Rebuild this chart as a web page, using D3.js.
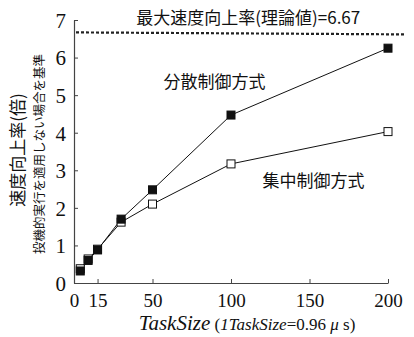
<!DOCTYPE html>
<html>
<head>
<meta charset="utf-8">
<script src="https://cdn.jsdelivr.net/npm/d3@7"></script>
<style>
  body { margin: 0; background: #fff; }
  svg { display: block; }
</style>
</head>
<body>
<div id="chart"></div>
<script>
// task sizes and speed-up values
const taskSizes = [4, 9, 15, 30, 50, 100, 200];
const distributed = [0.32, 0.6, 0.88, 1.7, 2.48, 4.47, 6.25];
const centralized = [0.38, 0.64, 0.9, 1.62, 2.1, 3.17, 4.03];
const maxSpeedup = 6.67;
const xTicks = [0, 15, 50, 100, 150, 200];
const yTicks = [0, 1, 2, 3, 4, 5, 6, 7];

const W = 414, H = 337;
const margin = {top: 20, right: 22, bottom: 54, left: 74};
const width = W - margin.left - margin.right,
    height = H - margin.top - margin.bottom;

const svg = d3.select("#chart")
    .append("svg")
    .attr("width", W)
    .attr("height", H)
    .style("background-color", "#fff");

const g = svg.append("g")
    .attr("transform", `translate(${margin.left},${margin.top})`);

const x = d3.scaleLinear().domain([0, 200]).range([0, width - 4]);
const y = d3.scaleLinear().domain([0, 7]).range([height, 0]);

const serif = "'Liberation Serif', 'DejaVu Serif', serif";
const jp = "'Noto Sans CJK JP', sans-serif";

// axes: ticks point inwards
const xAxis = g.append("g")
    .attr("transform", `translate(0,${height})`)
    .call(d3.axisBottom(x).tickValues(xTicks).tickFormat(d3.format("d"))
        .tickSize(-4).tickPadding(10).tickSizeOuter(0));
const yAxis = g.append("g")
    .call(d3.axisLeft(y).tickValues(yTicks).tickFormat(d3.format("d"))
        .tickSize(-4).tickPadding(8).tickSizeOuter(0));

[xAxis, yAxis].forEach(a => {
    a.select(".domain").attr("stroke", "#444").attr("stroke-width", 1.2);
    a.selectAll(".tick line").attr("stroke", "#444");
    a.selectAll(".tick text")
        .style("font-family", serif)
        .attr("fill", "#111");
});
xAxis.selectAll(".tick text").style("font-size", "19px").attr("dy", "0.75em");
yAxis.selectAll(".tick text").style("font-size", "21px").attr("dy", "0.35em");

// theoretical maximum line
g.append("line")
    .attr("x1", 2)
    .attr("x2", width + 14)
    .attr("y1", y(maxSpeedup))
    .attr("y2", y(maxSpeedup) + 2)
    .attr("stroke", "#222")
    .attr("stroke-width", 2.2)
    .attr("stroke-dasharray", "3,2");

g.append("text")
    .attr("x", x(111))
    .attr("y", y(maxSpeedup) - 8)
    .attr("text-anchor", "middle")
    .style("font-family", jp)
    .style("font-size", "17px")
    .attr("fill", "#111")
    .text("最大速度向上率(理論値)=6.67");

const line = d3.line()
    .x((d, i) => x(taskSizes[i]))
    .y(d => y(d));

const series = [
    {values: centralized, fill: "#fff"},
    {values: distributed, fill: "#111"}
];

series.forEach(s => {
    g.append("path")
        .datum(s.values)
        .attr("d", line)
        .attr("fill", "none")
        .attr("stroke", "#111")
        .attr("stroke-width", 1);
});

series.forEach(s => {
    g.selectAll(null)
        .data(s.values)
        .enter()
        .append("rect")
        .attr("x", (d, i) => x(taskSizes[i]) - 4)
        .attr("y", d => y(d) - 4)
        .attr("width", 8)
        .attr("height", 8)
        .attr("fill", s.fill)
        .attr("stroke", "#111")
        .attr("stroke-width", 1);
});

// series labels
g.append("text")
    .attr("x", x(57))
    .attr("y", y(5.2))
    .style("font-family", jp)
    .style("font-size", "17px")
    .attr("fill", "#111")
    .text("分散制御方式");

g.append("text")
    .attr("x", x(120))
    .attr("y", y(2.55))
    .style("font-family", jp)
    .style("font-size", "17px")
    .attr("fill", "#111")
    .text("集中制御方式");

// y axis titles
svg.append("text")
    .attr("transform", `translate(24,150) rotate(-90)`)
    .attr("text-anchor", "middle")
    .style("font-family", jp)
    .style("font-size", "17px")
    .attr("fill", "#111")
    .text("速度向上率(倍)");

svg.append("text")
    .attr("transform", `translate(44,154) rotate(-90)`)
    .attr("text-anchor", "middle")
    .style("font-family", jp)
    .style("font-size", "12.5px")
    .attr("fill", "#111")
    .text("投機的実行を適用しない場合を基準");

// x axis title
const xt = svg.append("text")
    .attr("x", margin.left + x(100) + 16)
    .attr("y", 330)
    .attr("text-anchor", "middle")
    .style("font-family", serif)
    .style("font-size", "21px")
    .attr("fill", "#111");
xt.append("tspan").style("font-style", "italic").text("TaskSize");
xt.append("tspan").style("font-size", "17px").text(" (");
xt.append("tspan").style("font-size", "17px").style("font-style", "italic").text("1TaskSize");
xt.append("tspan").style("font-size", "17px").text("=0.96 ");
xt.append("tspan").style("font-size", "17px").style("font-style", "italic").text("μ");
xt.append("tspan").style("font-size", "17px").text(" s)");
</script>
</body>
</html>
